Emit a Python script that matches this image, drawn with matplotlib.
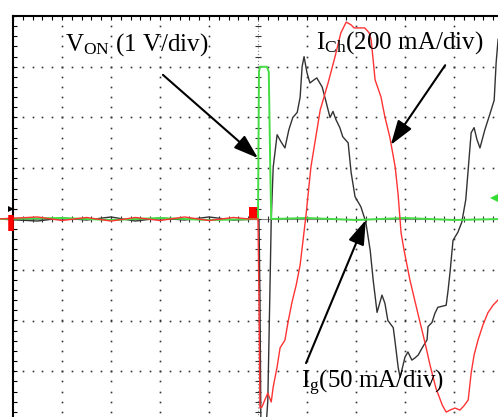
import numpy as np
import matplotlib
matplotlib.use("Agg")
import matplotlib.pyplot as plt

plt.rcParams['font.family'] = ['Liberation Serif', 'DejaVu Serif']
plt.rcParams['mathtext.fontset'] = 'custom'
plt.rcParams['mathtext.rm'] = 'Liberation Serif'

# scope scales (value per division)
V_PER_DIV = 1.0      # V_ON
ICH_PER_DIV = 200.0  # I_Ch [mA]
IG_PER_DIV = 50.0    # I_g [mA]

# time axis in divisions (10 div screen)
t_von = [-0.3, 1.0, 2.0, 3.0, 4.0, 5.0, 5.02, 5.04, 5.18, 5.22, 5.25, 5.27,
         6.0, 7.0, 8.0, 9.0, 9.95]
von = [0.0, 0.02, -0.02, 0.02, -0.02, 0.0, 2.9, 3.0, 3.0, 2.9, 1.0, 0.0,
       0.02, -0.02, 0.02, -0.02, 0.0]

t_ig = [-0.3, 0.5, 1.0, 1.5, 2.0, 2.5, 3.0, 3.5, 4.0, 4.5, 5.0,
        5.02, 5.04, 5.06, 5.16, 5.20, 5.24, 5.27, 5.31, 5.39, 5.47, 5.55,
        5.63, 5.71, 5.80, 5.86, 5.90, 5.94, 6.00, 6.06, 6.14, 6.20, 6.31,
        6.37, 6.47, 6.53, 6.59, 6.67, 6.73, 6.84, 6.90, 6.98, 7.10, 7.20,
        7.29, 7.35, 7.43, 7.53, 7.59, 7.65, 7.76, 7.80, 7.86, 7.90, 8.00,
        8.06, 8.14, 8.20, 8.27, 8.35, 8.45, 8.47, 8.55, 8.61, 8.67, 8.84,
        8.88, 8.92, 8.98, 9.08, 9.16, 9.24, 9.29, 9.35, 9.41, 9.47, 9.53,
        9.63, 9.73, 9.82, 9.86, 9.90]
ig = [0, -2, 1, -1, 2, -2, 1, -1, 2, -1, 0,
      -1, -79, -208, -208, -179, -79, -1, 51, 83, 76, 70,
      88, 100, 105, 120, 150, 160, 144, 134, 137, 139, 130,
      119, 100, 106, 98, 90, 81, 75, 46, 22, 12, -3,
      -31, -60, -92, -75, -83, -100, -107, -122, -146, -156, -136,
      -131, -139, -137, -134, -127, -119, -106, -102, -93, -87, -85,
      -70, -52, -21, -13, -3, 19, 49, 85, 90, 78, 70,
      88, 103, 117, 154, 177]

t_ich = [-0.3, 0.5, 1.0, 1.5, 2.0, 2.5, 3.0, 3.5, 4.0, 4.5, 4.82, 5.00,
         5.02, 5.04, 5.08, 5.14, 5.20, 5.27, 5.31, 5.39, 5.45, 5.55, 5.61,
         5.69, 5.78, 5.86, 5.92, 5.98, 6.08, 6.27, 6.43, 6.57, 6.69, 6.80,
         6.90, 6.96, 7.04, 7.18, 7.27, 7.31, 7.39, 7.51, 7.59, 7.69, 7.80,
         7.86, 7.92, 7.98, 8.10, 8.27, 8.41, 8.51, 8.63, 8.76, 8.84, 8.92,
         9.02, 9.12, 9.20, 9.29, 9.35, 9.41, 9.49, 9.59, 9.69, 9.80, 9.90]
ich = [0, 8, -6, 6, -8, 6, -6, 8, -6, 6, 0, 0,
       -316, -745, -741, -713, -686, -721, -662, -583, -508, -477, -410,
       -331, -260, -181, -83, 16, 205, 430, 536, 638, 733, 776,
       765, 753, 753, 753, 733, 705, 548, 481, 402, 323, 205,
       95, -55, -122, -240, -378, -489, -575, -666, -733, -761, -753,
       -745, -753, -737, -713, -607, -536, -477, -418, -370, -339, -319]

# noisy burst of I_Ch just before switching (looks like a solid block)
t_ich_burst = [4.82, 5.0]
ich_burst = 48  # mA

trig_level = 0.41  # div, green trigger marker on right edge

fig = plt.figure(figsize=(4.98, 4.17), dpi=100)
ax = fig.add_axes([0, 0, 1, 1])
ax.set_xlim(-13 / 49, 485 / 49)
ax.set_ylim(-198 / 50.75, 219 / 50.75)
ax.axis('off')

# dotted graticule
grid_col = '#333333'
fine = np.arange(0, 10.01, 0.2)
fine_y = np.arange(-4, 4.01, 0.2)
for k in range(1, 10):
    if k == 5:
        continue
    ax.plot(np.full(len(fine_y), k), fine_y, ls='none', marker='s', ms=1.2,
            mew=0, color=grid_col)
for j in range(-3, 4):
    if j == 0:
        continue
    ax.plot(fine, np.full(len(fine), j), ls='none', marker='s', ms=1.2,
            mew=0, color=grid_col)

# centre cross with ticks
ax.plot([0, 10], [0, 0], color='#888888', lw=0.8)
ax.plot([5, 5], [-4, 4], color='#888888', lw=0.8, ls=(0, (1, 2)))
ax.plot(fine, np.zeros(len(fine)), ls='none', marker='|', ms=5, mew=0.8,
        color='#333333')
ax.plot(np.full(len(fine_y), 5.0), fine_y, ls='none', marker='_', ms=5,
        mew=0.8, color='#333333')

# frame (left and top only, rest is cut off)
ax.plot([0, 0], [-5, 4], color='black', lw=1.5)
ax.plot([0, 11], [4, 4], color='black', lw=1.5)
ax.plot(np.full(len(fine_y), 0.04), fine_y, ls='none', marker='_', ms=3,
        mew=0.8, color='black')
ax.plot(fine, np.full(len(fine), 3.96), ls='none', marker='|', ms=3,
        mew=0.8, color='black')

# traces
ax.plot(t_ig, np.array(ig) / IG_PER_DIV, color='#333333', lw=1.0)
ax.plot(t_von, np.array(von) / V_PER_DIV, color='#44dd44', lw=1.4)
ax.plot(t_ich, np.array(ich) / ICH_PER_DIV, color='#ff3333', lw=1.0)
ax.fill_between(t_ich_burst, 0, ich_burst / ICH_PER_DIV, color='red', lw=0)

# channel markers
ax.plot([-0.05], [-0.08], marker='|', ms=12, mew=4, color='red')
ax.plot([-0.05], [0.2], marker='>', ms=4, color='black', mew=0)
ax.plot([9.85], [trig_level], marker='<', ms=8, color='#33dd33', mew=0)

# labels
fs = 18
ax.text(1.06, 3.43, r'$\mathregular{V_{ON}}$ (1 V/div)', fontsize=fs,
        ha='left', va='center')
ax.text(6.18, 3.47, r'$\mathregular{I_{Ch}}$(200 mA/div)', fontsize=fs,
        ha='left', va='center')
ax.text(5.88, -3.23, r'$\mathregular{I_{g}}$(50 mA/div)', fontsize=fs,
        ha='left', va='center')

arrow = dict(arrowstyle='-|>,head_length=0.75,head_width=0.25', lw=1.5,
             color='black', mutation_scale=20, shrinkA=0, shrinkB=0)
ax.annotate('', xy=(5.0, 1.20), xytext=(3.06, 2.84), arrowprops=arrow)
ax.annotate('', xy=(7.71, 1.46), xytext=(8.82, 3.03), arrowprops=arrow)
ax.annotate('', xy=(7.20, -0.02), xytext=(5.98, -2.84), arrowprops=arrow)

plt.savefig('out.png', dpi=100)
